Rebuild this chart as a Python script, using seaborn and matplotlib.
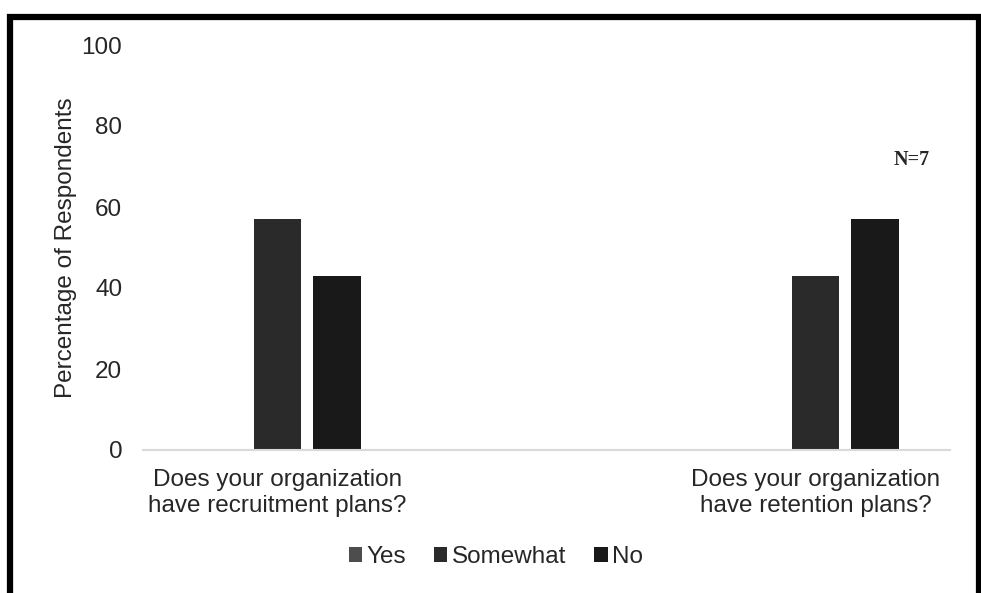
import matplotlib
matplotlib.use("Agg")
import matplotlib.pyplot as plt
import seaborn as sns
import pandas as pd
from matplotlib.patches import Rectangle

# Survey data (N = 7 respondents)
questions = ["Does your organization\nhave recruitment plans?",
             "Does your organization\nhave retention plans?"]
responses = ["Yes", "Somewhat", "No"]
yes_pct = [0.0, 0.0]
somewhat_pct = [57.14, 42.86]
no_pct = [42.86, 57.14]
colors = ["#4d4d4d", "#2a2a2a", "#191919"]

rows = []
for q, y, s, n in zip(questions, yes_pct, somewhat_pct, no_pct):
    rows += [(q, "Yes", y), (q, "Somewhat", s), (q, "No", n)]
df = pd.DataFrame(rows, columns=["question", "response", "pct"])

sns.set_theme(style="white")
plt.rcParams["font.family"] = ["Liberation Sans", "DejaVu Sans"]

FS = 17.5
fig = plt.figure(figsize=(9.81, 5.93), dpi=100)
ax = fig.add_axes([143 / 981, 143 / 593, 807 / 981, 405 / 593])

# a blank middle slot spaces the two question groups apart
order = [questions[0], " ", questions[1]]
sns.barplot(data=df, x="question", y="pct", hue="response", order=order,
            hue_order=responses, palette=colors, width=0.669, gap=0.2,
            linewidth=0, ax=ax, legend=True)

ax.set_ylim(0, 100)
ax.set_yticks(range(0, 101, 20))
ax.set_xlim(-0.5, 2.5)
ax.set_xlabel("")
ax.set_ylabel("Percentage of Respondents", fontsize=FS, labelpad=3)
ax.tick_params(axis="y", length=0, pad=15, labelsize=FS)
ax.tick_params(axis="x", length=0, pad=14, labelsize=FS)
for side in ["left", "right", "top"]:
    ax.spines[side].set_visible(False)
ax.spines["bottom"].set_color("#d9d9d9")
ax.spines["bottom"].set_linewidth(1.5)
ax.grid(False)

ax.legend(loc="center", bbox_to_anchor=(496 / 981, 1 - 557 / 593),
          bbox_transform=fig.transFigure, ncol=3, frameon=False,
          fontsize=FS, handlelength=0.54, handleheight=0.54,
          handletextpad=0.2, columnspacing=1.15, borderaxespad=0)

fig.text(912 / 981, 1 - 160 / 593, "N=7", ha="center", va="center",
         fontsize=14.5, fontweight="bold", family="Liberation Serif")

# outer frame; its lower edge runs past the bottom of the canvas
fig.patches.append(Rectangle((10 / 981, -2 / 593), 969 / 981, 578 / 593,
                             transform=fig.transFigure, fill=False,
                             edgecolor="black", linewidth=4.5,
                             clip_on=False))

fig.savefig("out.png", dpi=100)
